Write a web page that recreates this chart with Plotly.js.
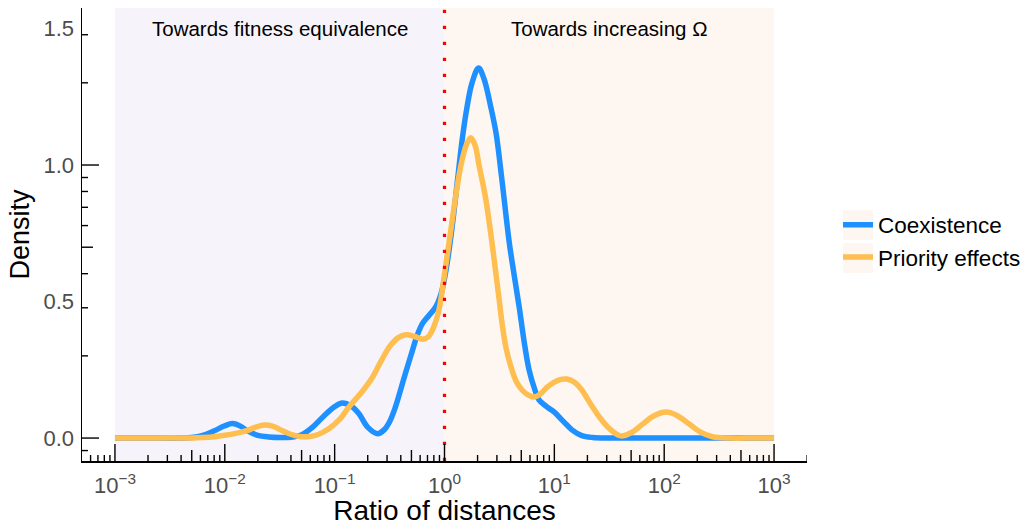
<!DOCTYPE html>
<html><head><meta charset="utf-8">
<script src="https://cdn.plot.ly/plotly-3.0.1.min.js"></script>
<style>html,body{margin:0;padding:0;background:#fff}#chart{width:1031px;height:526px}</style>
</head><body><div id="chart"></div>
<script>
// ---- data (x given as log10 of the ratio of distances) ----
const seriesNames = ['Coexistence', 'Priority effects'];
const logRatioCoex = [-3.0, -2.7, -2.4, -2.3, -2.2, -2.1, -2.0, -1.93, -1.85, -1.8, -1.7, -1.6, -1.5, -1.4, -1.3, -1.2, -1.1, -1.0, -0.93, -0.85, -0.78, -0.7, -0.61, -0.55, -0.5, -0.45, -0.4, -0.35, -0.3, -0.25, -0.2, -0.14, -0.08, -0.03, 0.02, 0.07, 0.12, 0.16, 0.2, 0.25, 0.31, 0.36, 0.42, 0.47, 0.52, 0.59, 0.635, 0.68, 0.73, 0.77, 0.82, 0.86, 0.93, 1.0, 1.08, 1.16, 1.25, 1.35, 1.5, 1.8, 2.1, 2.4, 2.7, 3.0];
const densityCoex  = [0, 0, 0, 0.002, 0.01, 0.026, 0.045, 0.053, 0.042, 0.028, 0.01, 0.004, 0.002, 0.003, 0.012, 0.04, 0.08, 0.115, 0.128, 0.117, 0.09, 0.04, 0.016, 0.03, 0.06, 0.11, 0.176, 0.245, 0.31, 0.375, 0.42, 0.45, 0.48, 0.53, 0.63, 0.775, 0.95, 1.09, 1.2, 1.3, 1.355, 1.315, 1.215, 1.115, 0.955, 0.715, 0.595, 0.48, 0.34, 0.25, 0.18, 0.14, 0.115, 0.095, 0.062, 0.03, 0.009, 0.002, 0, 0, 0, 0, 0, 0];
const logRatioPrio = [-3.0, -2.7, -2.4, -2.3, -2.2, -2.1, -2.0, -1.9, -1.8, -1.72, -1.64, -1.56, -1.48, -1.4, -1.32, -1.24, -1.15, -1.05, -0.95, -0.87, -0.76, -0.66, -0.58, -0.5, -0.42, -0.35, -0.27, -0.2, -0.15, -0.1, -0.05, 0.0, 0.05, 0.1, 0.15, 0.2, 0.24, 0.28, 0.314, 0.35, 0.378, 0.433, 0.469, 0.5, 0.524, 0.56, 0.606, 0.65, 0.706, 0.76, 0.815, 0.87, 0.93, 1.0, 1.06, 1.115, 1.18, 1.25, 1.33, 1.41, 1.5, 1.607, 1.7, 1.8, 1.9, 2.017, 2.12, 2.226, 2.33, 2.44, 2.6, 2.8, 3.0];
const densityPrio  = [0, 0, 0, 0, 0.002, 0.005, 0.01, 0.017, 0.027, 0.04, 0.048, 0.043, 0.028, 0.014, 0.006, 0.005, 0.013, 0.035, 0.07, 0.114, 0.165, 0.22, 0.28, 0.335, 0.368, 0.378, 0.372, 0.362, 0.37, 0.405, 0.47, 0.6, 0.74, 0.88, 1.0, 1.075, 1.10, 1.07, 1.0, 0.93, 0.87, 0.714, 0.60, 0.5, 0.42, 0.33, 0.26, 0.21, 0.176, 0.158, 0.15, 0.16, 0.185, 0.205, 0.215, 0.216, 0.205, 0.176, 0.125, 0.077, 0.035, 0.008, 0.02, 0.05, 0.08, 0.095, 0.082, 0.052, 0.022, 0.005, 0, 0, 0];
const xTickExponents = [-3, -2, -1, 0, 1, 2, 3];
const yTickValues = [0, 0.5, 1.0, 1.5];
const yTickLabels = ['0.0', '0.5', '1.0', '1.5'];
const regionLabels = ['Towards fitness equivalence', 'Towards increasing \u03A9'];
const regionLogBounds = [[-3, 0], [0, 3]];
const thresholdRatio = 1;

// ---- styles ----
const FONT = 'Liberation Sans, Arial, Helvetica, sans-serif';
const colors = ['#1E90FF', '#FEBE50'];
const regionFills = ['rgb(247,243,250)', 'rgb(254,247,241)'];
const legendKeyFill = 'rgb(254,246,240)';
const xRange = [-3.3, 3.3];
const yRange = [-0.084, 1.575];

const toRatio = a => a.map(v => Math.pow(10, v));

const traces = [
  {x: toRatio(logRatioCoex), y: densityCoex, name: seriesNames[0]},
  {x: toRatio(logRatioPrio), y: densityPrio, name: seriesNames[1]}
].map((t, i) => Object.assign(t, {
  type: 'scatter', mode: 'lines',
  line: {color: colors[i], width: 5.5, shape: 'spline', smoothing: 1},
  hoverinfo: 'skip'
}));

const shapes = [];
regionLogBounds.forEach((b, i) => shapes.push({
  type: 'rect', xref: 'x', yref: 'paper',
  x0: Math.pow(10, b[0]), x1: Math.pow(10, b[1]), y0: 0, y1: 1,
  fillcolor: regionFills[i], line: {width: 0}, layer: 'below'
}));
shapes.push({
  type: 'line', xref: 'x', yref: 'paper', x0: thresholdRatio, x1: thresholdRatio, y0: 0, y1: 1,
  line: {color: '#FF0000', width: 3.2, dash: '3.2px,12.8px'}, layer: 'above'
});

// legend key backgrounds (theme legend.key fill), placed behind the legend symbols
[[1.0497, 1.091, 0.4879, 0.5541], [1.0497, 1.091, 0.4150, 0.4812]].forEach(r => shapes.push({
  type: 'rect', xref: 'paper', yref: 'paper', x0: r[0], x1: r[1], y0: r[2], y1: r[3],
  fillcolor: legendKeyFill, line: {width: 0}, layer: 'below'
}));

// log ticks (annotation_logticks style): long at 1, mid at 5, short otherwise
function tickLen(k) { return k === 1 ? 17 : (k === 5 ? 11 : 6); }
for (let n = -4; n <= 3; n++) {
  for (let k = 1; k <= 9; k++) {
    const v = Math.log10(k) + n;
    if (v >= xRange[0] - 1e-9 && v <= xRange[1] + 0.002) {
      shapes.push({type: 'line', xref: 'x', yref: 'paper', ysizemode: 'pixel', yanchor: 0,
        x0: Math.pow(10, v), x1: Math.pow(10, v), y0: 0, y1: tickLen(k),
        line: {color: '#000', width: 1.4}, layer: 'above'});
    }
  }
}
for (let n = -1; n <= 1; n++) {
  for (let k = 1; k <= 9; k++) {
    const v = Math.log10(k) + n;
    if (v >= yRange[0] && v <= yRange[1]) {
      shapes.push({type: 'line', xref: 'paper', yref: 'y', xsizemode: 'pixel', xanchor: 0,
        x0: 0, x1: tickLen(k), y0: v, y1: v,
        line: {color: '#000', width: 1.4}, layer: 'above'});
    }
  }
}

const annotations = regionLabels.map((txt, i) => ({
  text: txt, xref: 'x', yref: 'y',
  x: (regionLogBounds[i][0] + regionLogBounds[i][1]) / 2, y: 1.5,
  showarrow: false, xanchor: 'center', yanchor: 'middle',
  font: {family: FONT, size: 20.5, color: '#000'}
}));

const layout = {
  width: 1031, height: 526,
  margin: {l: 82, r: 224, t: 8, b: 65, autoexpand: false},
  paper_bgcolor: '#fff', plot_bgcolor: '#fff',
  font: {family: FONT},
  showlegend: true,
  legend: {xref: 'container', yref: 'container', x: 0.8128, xanchor: 'left', y: 0.5418, yanchor: 'middle',
    font: {family: FONT, size: 22.5, color: '#000'}, bgcolor: 'rgba(0,0,0,0)', tracegroupgap: 0},
  xaxis: {
    type: 'log', range: xRange,
    tickmode: 'array', tickvals: toRatio(xTickExponents),
    ticktext: xTickExponents.map(e => '10<sup>' + (e < 0 ? '\u2212' + (-e) : e) + '</sup>'),
    ticks: '', ticklabelstandoff: 4,
    tickfont: {family: FONT, size: 22, color: '#4D4D4D'},
    showline: true, linecolor: '#000', linewidth: 1.5,
    showgrid: false, zeroline: false,
    title: {text: 'Ratio of distances', font: {family: FONT, size: 28, color: '#000'}, standoff: 16}
  },
  yaxis: {
    range: yRange, tickmode: 'array', tickvals: yTickValues, ticktext: yTickLabels,
    ticks: '', ticklabelstandoff: 2,
    tickfont: {family: FONT, size: 22, color: '#4D4D4D'},
    showline: true, linecolor: '#000', linewidth: 1.5,
    showgrid: false, zeroline: false,
    title: {text: 'Density', font: {family: FONT, size: 27, color: '#000'}, standoff: 6}
  },
  shapes: shapes,
  annotations: annotations
};

Plotly.newPlot('chart', traces, layout, {displayModeBar: false, staticPlot: true});
</script>
</body></html>
